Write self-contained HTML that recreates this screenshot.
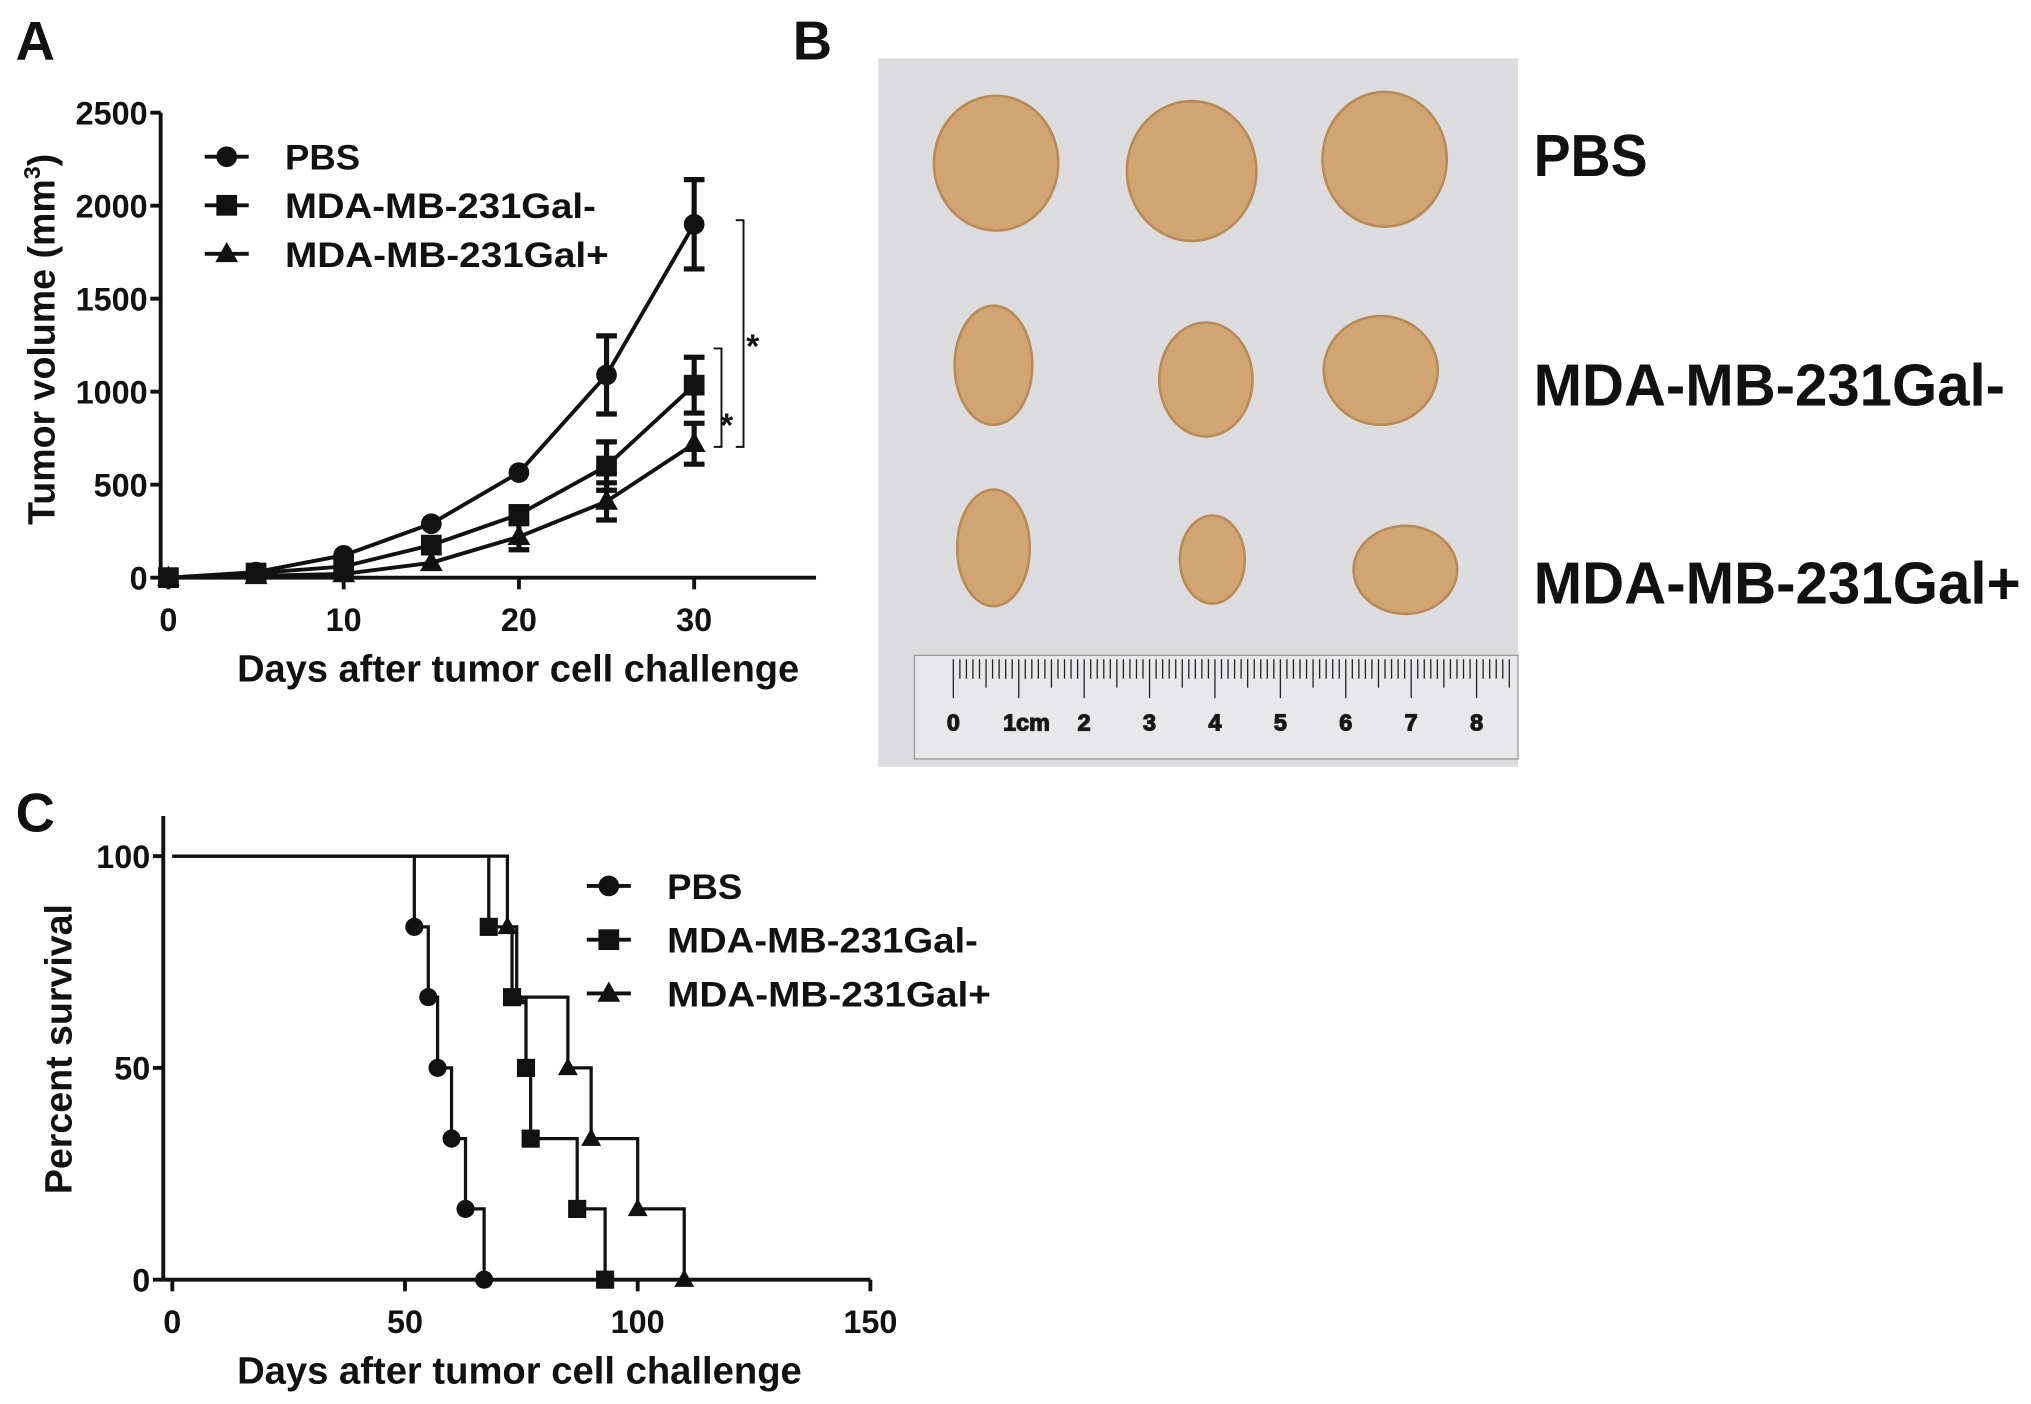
<!DOCTYPE html>
<html><head><meta charset="utf-8"><style>
html,body{margin:0;padding:0;background:#fff}
svg{display:block}
text{font-family:"Liberation Sans",Arial,sans-serif;font-weight:bold;fill:#111}
</style></head><body>
<svg id="fig" xmlns="http://www.w3.org/2000/svg" width="2031" height="1404" viewBox="0 0 1568 1084">
<text x="12" y="46" font-size="42">A</text>
<text x="612" y="46" font-size="42">B</text>
<text x="12" y="642" font-size="42">C</text>
<g id="pa"></g>
<g id="pb">
<rect x="678" y="45" width="494" height="547" fill="#dcdcde"/>
<g fill="#d2a472" stroke="#b88a58" stroke-width="2">
<ellipse cx="769" cy="126" rx="48" ry="52"/>
<ellipse cx="920" cy="132" rx="50" ry="54"/>
<ellipse cx="1069" cy="123" rx="48" ry="52"/>
<ellipse cx="767" cy="282" rx="30" ry="46"/>
<ellipse cx="931" cy="293" rx="36" ry="44"/>
<ellipse cx="1066" cy="286" rx="44" ry="42"/>
<ellipse cx="767" cy="423" rx="28" ry="45"/>
<ellipse cx="936" cy="432" rx="25" ry="34"/>
<ellipse cx="1085" cy="440" rx="40" ry="34"/>
</g>
<rect x="706" y="506" width="466" height="80" fill="#e8e8ea" stroke="#999" stroke-width="1"/>
<g id="ruler" stroke="#222" stroke-width="1"></g>
</g>
<text x="1184" y="136" font-size="46" textLength="88" lengthAdjust="spacingAndGlyphs">PBS</text>
<text x="1184" y="313" font-size="46" textLength="364" lengthAdjust="spacingAndGlyphs">MDA-MB-231Gal-</text>
<text x="1184" y="466" font-size="46" textLength="376" lengthAdjust="spacingAndGlyphs">MDA-MB-231Gal+</text>
<g id="pc"></g>
</svg>
<script>
const NS="http://www.w3.org/2000/svg";
// Panel A data
const daysA=[0,5,10,15,20,25,30];
const pbsVol=[0,30,120,290,565,1090,1900];
const pbsErr=[0,0,0,0,0,210,240];
const negVol=[0,25,60,175,340,600,1035];
const negErr=[0,0,0,0,40,130,150];
const posVol=[0,10,20,80,220,410,720];
const posErr=[0,0,0,0,70,100,110];
const yTicksA=[0,500,1000,1500,2000,2500];
const xTicksA=[0,10,20,30];
// Panel C data
const pbsT=[0,52,55,57,60,63,67];
const pbsS=[100,83.3,66.7,50,33.3,16.7,0];
const negT=[0,68,73,76,77,87,93];
const negS=[100,83.3,66.7,50,33.3,16.7,0];
const posT=[0,72,74,85,90,100,110];
const posS=[100,83.3,66.7,50,33.3,16.7,0];
const yTicksC=[0,50,100];
const xTicksC=[0,50,100,150];
const legendNames=["PBS","MDA-MB-231Gal-","MDA-MB-231Gal+"];
const legendWidths=[58,240,250];
const rulerLabels=["0","1cm","2","3","4","5","6","7","8"];

function el(tag,attrs,parent,txt){const e=document.createElementNS(NS,tag);for(const k in attrs)e.setAttribute(k,attrs[k]);if(txt!==undefined)e.textContent=txt;parent.appendChild(e);return e;}
function marker(g,type,x,y,s){
  let m;
  if(type==="circle") m=el("circle",{cx:x,cy:y,r:s},g);
  else if(type==="square") m=el("rect",{x:x-s,y:y-s,width:2*s,height:2*s},g);
  else m=el("polygon",{points:`${x},${y-s*1.15} ${x-s*1.1},${y+s*0.8} ${x+s*1.1},${y+s*0.8}`},g);
  m.setAttribute("fill","#111");
  return m;
}
const types=["circle","square","triangle"];

// ---- Panel A
const A=document.getElementById("pa");
const ax=d=>130+d*13.53, ay=v=>446-v*0.1436;
let l=el("line",{x1:124,y1:ay(2500),x2:124,y2:452,stroke:"#111","stroke-width":3},A);

l=el("line",{x1:124,y1:446,x2:630,y2:446,stroke:"#111","stroke-width":3},A);

yTicksA.forEach(v=>{el("line",{x1:116,y1:ay(v),x2:124,y2:ay(v),stroke:"#111","stroke-width":3},A);
  const t=el("text",{x:114,y:ay(v)+9,"font-size":25,"text-anchor":"end"},A,String(v));
  });
xTicksA.forEach(v=>{el("line",{x1:ax(v),y1:446,x2:ax(v),y2:455,stroke:"#111","stroke-width":3},A);
  const t=el("text",{x:ax(v),y:487,"font-size":25,"text-anchor":"middle"},A,String(v));
  });
let t=el("text",{x:183,y:526,"font-size":29,textLength:434,lengthAdjust:"spacingAndGlyphs"},A,"Days after tumor cell challenge");

t=el("text",{x:0,y:0,"font-size":29,"text-anchor":"middle",transform:"translate(42,262) rotate(-90)"},A);

t.innerHTML='Tumor volume (mm<tspan dy="-11" font-size="18">3</tspan><tspan dy="11">)</tspan>';
[[pbsVol,pbsErr],[negVol,negErr],[posVol,posErr]].forEach(([vals,errs],i)=>{
  const g=el("g",{},A);
  
  
  el("polyline",{points:daysA.map((d,j)=>ax(d)+","+ay(vals[j])).join(" "),fill:"none",stroke:"#111","stroke-width":3},g);
  daysA.forEach((d,j)=>{
    if(errs[j]>0){const x=ax(d),y1=ay(vals[j]+errs[j]),y2=ay(vals[j]-errs[j]);
      el("path",{d:`M${x},${y1}V${y2}M${x-8},${y1}H${x+8}M${x-8},${y2}H${x+8}`,stroke:"#111","stroke-width":4,fill:"none"},g);}
    const m=marker(g,types[i],ax(d),ay(vals[j]),8);
    
  });
});
el("path",{d:"M568,170H574V345H568",fill:"none",stroke:"#111","stroke-width":1.5},A);
el("path",{d:"M551,269H557V345H551",fill:"none",stroke:"#111","stroke-width":1.5},A);
t=el("text",{x:576,y:276,"font-size":26},A,"*");
t=el("text",{x:556,y:337,"font-size":26},A,"*");
legendNames.forEach((n,i)=>{const y=121+i*37.5;const g=el("g",{},A);
  
  el("line",{x1:158,y1:y,x2:192,y2:y,stroke:"#111","stroke-width":3},g);
  marker(g,types[i],175,y,8);
  el("text",{x:220,y:y+10,"font-size":27,textLength:legendWidths[i],lengthAdjust:"spacingAndGlyphs"},g,n);});

// ---- Ruler
const R=document.getElementById("ruler");
const r0=736,rcm=50.5;
for(let k=0;k<=87;k++){const x=r0+k*rcm/10;if(x>1170)break;const h=k%10===0?30:(k%5===0?22:15);el("line",{x1:x,y1:509,x2:x,y2:509+h},R);}
rulerLabels.forEach((s,k)=>{const tt=el("text",{x:r0+k*rcm+(k===1?6:0),y:564,"font-size":18,"text-anchor":"middle","font-weight":"normal"},R,s);
  });

// ---- Panel C
const C=document.getElementById("pc");
const cx=d=>133+d*3.593, cy=v=>988-v*3.27;
l=el("line",{x1:126,y1:630,x2:126,y2:988,stroke:"#111","stroke-width":3},C);

l=el("line",{x1:126,y1:988,x2:cx(150),y2:988,stroke:"#111","stroke-width":3},C);

yTicksC.forEach(v=>{el("line",{x1:118,y1:cy(v),x2:126,y2:cy(v),stroke:"#111","stroke-width":3},C);
  const tt=el("text",{x:116,y:cy(v)+9,"font-size":25,"text-anchor":"end"},C,String(v));
  });
xTicksC.forEach(v=>{el("line",{x1:cx(v),y1:988,x2:cx(v),y2:997,stroke:"#111","stroke-width":3},C);
  const tt=el("text",{x:cx(v),y:1029,"font-size":25,"text-anchor":"middle"},C,String(v));
  });
t=el("text",{x:183,y:1068,"font-size":29,textLength:436,lengthAdjust:"spacingAndGlyphs"},C,"Days after tumor cell challenge");

t=el("text",{x:0,y:0,"font-size":29,"text-anchor":"middle",transform:"translate(55,810) rotate(-90)"},C,"Percent survival");

[[pbsT,pbsS],[negT,negS],[posT,posS]].forEach(([T,S],i)=>{
  const g=el("g",{},C);
  
  
  let d=`M${cx(T[0])},${cy(S[0])}`;
  for(let j=1;j<T.length;j++){d+=`H${cx(T[j])}V${cy(S[j])}`;}
  el("path",{d:d,fill:"none",stroke:"#111","stroke-width":2.5},g);
  for(let j=1;j<T.length;j++){const m=marker(g,types[i],cx(T[j]),cy(S[j]),7);
    }
});
legendNames.forEach((n,i)=>{const y=684+i*41.5;const g=el("g",{},C);
  
  el("line",{x1:453,y1:y,x2:487,y2:y,stroke:"#111","stroke-width":3},g);
  marker(g,types[i],470,y,8);
  el("text",{x:515,y:y+10,"font-size":27,textLength:legendWidths[i],lengthAdjust:"spacingAndGlyphs"},g,n);});
</script>
</body></html>
